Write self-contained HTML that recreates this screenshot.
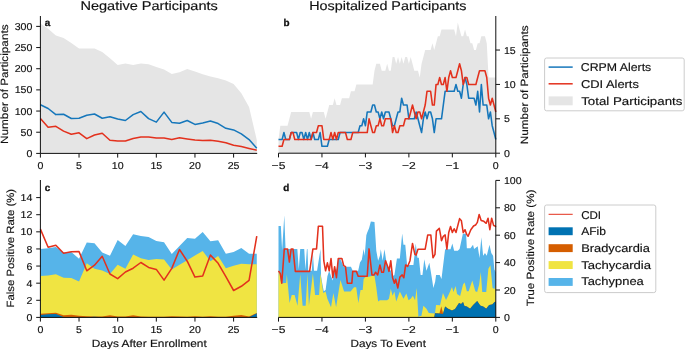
<!DOCTYPE html>
<html><head><meta charset="utf-8"><style>
html,body{margin:0;padding:0;background:#fff;}
svg{display:block;font-family:"Liberation Sans", sans-serif;will-change:transform;text-rendering:geometricPrecision;}
</style></head><body>
<svg width="685" height="349" viewBox="0 0 685 349">
<rect width="685" height="349" fill="#fff"/>
<polygon fill="#e5e5e5" points="40.40,23.60 48.13,28.70 55.86,35.60 63.58,37.90 71.31,43.10 79.04,48.60 86.77,48.60 94.50,48.60 102.22,52.00 109.95,58.30 117.68,64.90 125.41,63.50 133.14,65.00 140.86,63.50 148.59,64.30 156.32,66.90 164.05,69.50 171.78,73.90 179.50,72.20 187.23,69.00 194.96,71.60 202.69,74.20 210.42,76.40 218.14,78.30 225.87,80.60 233.60,84.00 241.33,93.30 249.06,107.00 256.78,140.00 256.78,153.4 40.40,153.4"/>
<polyline fill="none" stroke="#1677bb" stroke-width="1.55" stroke-linejoin="round" points="40.40,104.70 48.13,108.50 55.86,114.60 63.58,114.30 71.31,118.50 79.04,118.20 86.77,115.20 94.50,114.00 102.22,118.20 109.95,116.70 117.68,119.10 125.41,120.50 133.14,114.60 140.86,111.50 148.59,118.60 156.32,122.10 164.05,112.10 171.78,122.40 179.50,123.20 187.23,120.50 194.96,124.40 202.69,123.00 210.42,121.00 218.14,123.60 225.87,128.30 233.60,129.90 241.33,133.90 249.06,139.60 256.78,148.20"/>
<polyline fill="none" stroke="#e3311d" stroke-width="1.55" stroke-linejoin="round" points="40.40,118.50 48.13,127.20 55.86,126.30 63.58,131.10 71.31,134.30 79.04,132.80 86.77,138.60 94.50,135.00 102.22,133.20 109.95,140.20 117.68,140.90 125.41,140.90 133.14,138.40 140.86,136.90 148.59,136.90 156.32,137.90 164.05,138.10 171.78,139.40 179.50,137.80 187.23,138.90 194.96,139.90 202.69,140.50 210.42,140.20 218.14,141.30 225.87,142.70 233.60,145.30 241.33,146.50 249.06,148.40 256.78,150.20"/>
<polygon fill="#56b4e9" points="40.40,249.00 48.13,248.30 55.86,247.00 63.58,252.40 71.31,252.10 79.04,258.70 86.77,242.40 94.50,243.20 102.22,252.40 109.95,255.70 117.68,240.10 125.41,245.90 133.14,234.20 140.86,236.00 148.59,237.10 156.32,241.00 164.05,242.20 171.78,253.90 179.50,245.90 187.23,238.00 194.96,238.80 202.69,232.00 210.42,241.30 218.14,240.20 225.87,253.70 233.60,251.90 241.33,247.90 249.06,253.70 256.78,253.70 256.78,317.4 40.40,317.4"/>
<polygon fill="#f0e442" points="40.40,275.90 48.13,275.40 55.86,274.20 63.58,277.80 71.31,278.00 79.04,281.40 86.77,263.20 94.50,268.80 102.22,270.60 109.95,274.00 117.68,264.80 125.41,268.70 133.14,254.60 140.86,258.20 148.59,259.90 156.32,259.00 164.05,259.40 171.78,269.40 179.50,264.80 187.23,260.20 194.96,255.60 202.69,251.00 210.42,261.20 218.14,256.10 225.87,268.20 233.60,265.80 241.33,263.70 249.06,264.30 256.78,264.30 256.78,317.4 40.40,317.4"/>
<polygon fill="#d55e00" points="40.40,313.80 48.13,313.30 55.86,312.80 63.58,315.30 71.31,314.80 79.04,315.80 86.77,316.30 94.50,316.60 102.22,316.60 109.95,315.30 117.68,316.60 125.41,316.60 133.14,315.30 140.86,316.60 148.59,316.80 156.32,316.80 164.05,316.80 171.78,316.30 179.50,316.50 187.23,316.80 194.96,316.30 202.69,316.80 210.42,316.30 218.14,316.80 225.87,316.80 233.60,315.80 241.33,315.10 249.06,316.50 256.78,312.90 256.78,317.4 40.40,317.4"/>
<polygon fill="#0072b2" points="40.40,315.10 48.13,314.30 55.86,314.00 63.58,316.90 71.31,317.00 79.04,317.20 86.77,317.20 94.50,316.80 102.22,317.20 109.95,317.20 117.68,317.20 125.41,317.20 133.14,317.20 140.86,317.20 148.59,317.20 156.32,317.20 164.05,317.20 171.78,317.20 179.50,317.20 187.23,317.20 194.96,317.00 202.69,317.00 210.42,317.20 218.14,317.20 225.87,317.20 233.60,317.20 241.33,317.20 249.06,317.20 256.78,313.30 256.78,317.4 40.40,317.4"/>
<polyline fill="none" stroke="#e3311d" stroke-width="1.55" stroke-linejoin="round" points="40.40,229.10 48.13,247.30 55.86,245.20 63.58,253.30 71.31,251.80 79.04,251.60 86.77,270.80 94.50,265.20 102.22,256.30 109.95,274.00 117.68,278.60 125.41,272.00 133.14,268.20 140.86,262.50 148.59,267.40 156.32,269.40 164.05,280.10 171.78,268.40 179.50,249.50 187.23,261.20 194.96,277.10 202.69,276.10 210.42,255.10 218.14,263.30 225.87,276.60 233.60,290.50 241.33,286.30 249.06,280.40 256.78,236.20"/>
<polygon fill="#e5e5e5" points="278.50,139.45 280.31,125.69 282.12,125.69 283.93,125.69 285.74,125.69 287.56,125.69 289.37,118.81 291.18,111.94 292.99,111.94 294.80,111.94 296.61,111.94 298.42,111.94 300.23,111.94 302.04,111.94 303.85,111.94 305.67,111.94 307.48,111.94 309.29,111.94 311.10,118.81 312.91,111.94 314.72,111.94 316.53,111.94 318.34,111.94 320.15,111.94 321.96,111.94 323.77,111.94 325.59,118.81 327.40,111.94 329.21,105.06 331.02,105.06 332.83,105.06 334.64,98.18 336.45,105.06 338.26,105.06 340.07,105.06 341.88,98.18 343.70,98.18 345.51,98.18 347.32,98.18 349.13,98.18 350.94,91.31 352.75,91.31 354.56,91.31 356.37,84.43 358.18,84.43 360.00,84.43 361.81,84.43 363.62,84.43 365.43,84.43 367.24,84.43 369.05,84.43 370.86,84.43 372.67,84.43 374.48,70.68 376.29,63.80 378.11,63.80 379.92,63.80 381.73,70.68 383.54,70.68 385.35,70.68 387.16,63.80 388.97,70.68 390.78,70.68 392.59,56.92 394.40,56.92 396.22,63.80 398.03,56.92 399.84,63.80 401.65,56.92 403.46,63.80 405.27,56.92 407.08,56.92 408.89,63.80 410.70,56.92 412.51,63.80 414.32,70.68 416.14,70.68 417.95,70.68 419.76,77.55 421.57,63.80 423.38,56.92 425.19,50.04 427.00,50.04 428.81,50.04 430.62,50.04 432.44,43.17 434.25,50.04 436.06,43.17 437.87,36.29 439.68,36.29 441.49,29.41 443.30,29.41 445.11,29.41 446.92,29.41 448.73,29.41 450.54,29.41 452.36,29.41 454.17,29.41 455.98,36.29 457.79,22.54 459.60,29.41 461.41,36.29 463.22,36.29 465.03,29.41 466.84,36.29 468.65,36.29 470.47,43.17 472.28,43.17 474.09,50.04 475.90,50.04 477.71,43.17 479.52,43.17 481.33,36.29 483.14,36.29 484.95,36.29 486.76,43.17 488.58,77.55 490.39,77.55 492.20,77.55 494.01,77.55 495.82,77.55 495.82,153.2 278.50,153.2"/>
<polyline fill="none" stroke="#1677bb" stroke-width="1.55" stroke-linejoin="round" points="278.50,139.45 280.31,139.45 282.12,139.45 283.93,132.57 285.74,139.45 287.56,139.45 289.37,139.45 291.18,132.57 292.99,132.57 294.80,132.57 296.61,132.57 298.42,139.45 300.23,132.57 302.04,132.57 303.85,139.45 305.67,132.57 307.48,139.45 309.29,132.57 311.10,139.45 312.91,132.57 314.72,139.45 316.53,139.45 318.34,139.45 320.15,132.57 321.96,146.32 323.77,146.32 325.59,146.32 327.40,146.32 329.21,139.45 331.02,139.45 332.83,139.45 334.64,139.45 336.45,139.45 338.26,139.45 340.07,132.57 341.88,132.57 343.70,132.57 345.51,132.57 347.32,132.57 349.13,132.57 350.94,132.57 352.75,132.57 354.56,132.57 356.37,132.57 358.18,132.57 360.00,125.69 361.81,125.69 363.62,118.81 365.43,125.69 367.24,111.94 369.05,111.94 370.86,111.94 372.67,105.06 374.48,105.06 376.29,111.94 378.11,111.94 379.92,118.81 381.73,111.94 383.54,118.81 385.35,111.94 387.16,111.94 388.97,111.94 390.78,118.81 392.59,125.69 394.40,125.69 396.22,118.81 398.03,111.94 399.84,111.94 401.65,98.18 403.46,105.06 405.27,105.06 407.08,105.06 408.89,118.81 410.70,118.81 412.51,118.81 414.32,118.81 416.14,111.94 417.95,118.81 419.76,125.69 421.57,132.57 423.38,118.81 425.19,111.94 427.00,118.81 428.81,111.94 430.62,111.94 432.44,118.81 434.25,132.57 436.06,118.81 437.87,118.81 439.68,118.81 441.49,118.81 443.30,105.06 445.11,91.31 446.92,91.31 448.73,91.31 450.54,91.31 452.36,91.31 454.17,91.31 455.98,84.43 457.79,91.31 459.60,91.31 461.41,98.18 463.22,84.43 465.03,77.55 466.84,84.43 468.65,98.18 470.47,98.18 472.28,98.18 474.09,98.18 475.90,105.06 477.71,91.31 479.52,111.94 481.33,84.43 483.14,105.06 484.95,105.06 486.76,105.06 488.58,118.81 490.39,111.94 492.20,125.69 494.01,132.57 495.82,139.45"/>
<polyline fill="none" stroke="#e3311d" stroke-width="1.55" stroke-linejoin="round" points="278.50,146.32 280.31,146.32 282.12,146.32 283.93,139.45 285.74,139.45 287.56,139.45 289.37,139.45 291.18,132.57 292.99,132.57 294.80,139.45 296.61,139.45 298.42,139.45 300.23,139.45 302.04,139.45 303.85,139.45 305.67,139.45 307.48,139.45 309.29,139.45 311.10,139.45 312.91,132.57 314.72,132.57 316.53,132.57 318.34,125.69 320.15,125.69 321.96,125.69 323.77,139.45 325.59,139.45 327.40,139.45 329.21,139.45 331.02,132.57 332.83,139.45 334.64,132.57 336.45,139.45 338.26,132.57 340.07,132.57 341.88,132.57 343.70,132.57 345.51,132.57 347.32,139.45 349.13,139.45 350.94,139.45 352.75,132.57 354.56,132.57 356.37,132.57 358.18,132.57 360.00,132.57 361.81,132.57 363.62,132.57 365.43,132.57 367.24,132.57 369.05,118.81 370.86,125.69 372.67,132.57 374.48,132.57 376.29,125.69 378.11,125.69 379.92,118.81 381.73,125.69 383.54,125.69 385.35,118.81 387.16,118.81 388.97,118.81 390.78,118.81 392.59,132.57 394.40,125.69 396.22,132.57 398.03,132.57 399.84,125.69 401.65,125.69 403.46,125.69 405.27,118.81 407.08,118.81 408.89,118.81 410.70,111.94 412.51,105.06 414.32,111.94 416.14,118.81 417.95,111.94 419.76,111.94 421.57,118.81 423.38,111.94 425.19,105.06 427.00,91.31 428.81,91.31 430.62,91.31 432.44,105.06 434.25,105.06 436.06,84.43 437.87,84.43 439.68,77.55 441.49,84.43 443.30,84.43 445.11,77.55 446.92,91.31 448.73,77.55 450.54,70.68 452.36,77.55 454.17,77.55 455.98,77.55 457.79,70.68 459.60,63.80 461.41,70.68 463.22,84.43 465.03,77.55 466.84,77.55 468.65,84.43 470.47,84.43 472.28,84.43 474.09,84.43 475.90,84.43 477.71,77.55 479.52,70.68 481.33,70.68 483.14,70.68 484.95,70.68 486.76,77.55 488.58,98.18 490.39,105.06 492.20,98.18 494.01,105.06 495.82,111.94"/>
<polygon fill="#56b4e9" points="278.50,226.02 280.85,226.02 282.12,250.27 284.30,215.20 285.56,248.90 297.33,248.90 298.78,269.45 300.23,248.90 304.22,248.90 305.48,269.45 306.93,248.90 307.48,248.90 308.20,270.82 311.82,270.82 312.91,253.01 314.00,270.82 317.07,270.82 320.52,248.90 321.06,276.30 321.96,281.78 323.77,291.37 325.59,290.00 327.40,276.30 329.21,270.82 331.02,276.30 332.83,280.41 334.64,269.45 336.45,269.45 338.26,259.86 340.07,258.49 341.88,262.60 343.70,266.71 350.94,266.71 352.75,270.82 358.18,270.82 360.00,262.60 361.81,259.86 363.62,248.90 364.70,255.75 366.33,235.20 367.24,232.46 369.05,228.35 370.86,221.50 374.48,222.05 376.29,250.68 378.11,260.68 379.92,255.75 380.82,249.17 382.63,260.68 384.44,249.17 386.25,260.68 387.16,265.34 390.78,270.82 392.59,276.30 394.40,274.93 396.94,258.49 399.84,258.49 402.19,233.42 403.46,244.79 405.27,244.79 407.08,264.93 410.70,264.93 413.42,264.93 415.77,243.42 417.40,257.80 418.85,257.80 420.66,274.93 422.47,274.93 424.29,259.17 426.46,270.82 429.36,262.87 432.44,281.78 433.34,287.94 435.15,281.78 436.06,274.93 439.68,274.93 441.49,279.04 445.11,249.17 450.54,249.17 452.36,243.42 454.17,250.68 457.79,250.68 459.60,248.90 462.86,233.83 466.12,233.83 466.84,248.21 470.47,248.21 473.00,244.79 474.09,248.90 477.71,246.16 479.52,257.94 481.33,237.25 483.14,255.75 484.95,253.01 486.76,255.75 489.48,244.79 491.29,253.01 493.10,255.75 494.37,269.45 495.82,272.19 495.82,317.4 278.50,317.4"/>
<polygon fill="#f0e442" points="278.50,272.19 279.41,272.19 281.22,283.15 286.11,282.88 286.83,274.25 289.55,303.01 291.72,295.07 294.62,295.07 297.52,305.75 300.23,274.25 302.59,305.75 305.67,305.75 307.48,273.56 308.92,305.75 312.91,273.56 315.08,295.07 319.07,295.07 320.52,273.56 323.23,292.88 325.59,291.51 327.40,298.63 331.02,307.26 333.37,292.88 336.09,307.26 340.44,280.00 344.06,291.51 350.58,291.51 354.02,287.26 356.19,287.26 358.37,303.01 360.54,290.00 362.71,290.00 363.62,279.04 365.43,277.12 367.78,277.12 372.67,275.75 374.48,275.75 376.29,287.26 378.11,301.51 379.92,300.14 387.16,300.14 388.97,298.63 390.78,288.63 392.59,295.75 394.40,291.51 396.22,301.51 399.84,291.51 403.46,298.63 406.36,293.56 408.53,300.14 410.70,298.63 412.88,295.75 415.05,300.14 416.68,287.94 418.49,317.13 419.76,315.89 421.39,315.89 423.38,305.75 426.46,308.63 428.81,313.02 434.97,313.56 436.06,305.07 440.04,305.34 442.94,293.01 446.02,300.00 448.73,294.52 451.99,286.99 453.44,292.05 455.62,286.03 457.06,294.11 460.14,296.03 463.04,284.52 464.67,282.60 466.84,291.23 468.65,291.23 472.28,280.41 475.36,291.23 477.17,292.05 479.16,284.52 480.79,271.92 482.24,292.05 486.22,292.05 488.39,268.63 490.39,265.34 492.56,287.94 494.55,289.04 495.82,284.52 495.82,317.4 278.50,317.4"/>
<polygon fill="#d55e00" points="278.50,317.33 279.41,317.33 280.31,317.33 281.22,317.33 282.12,317.33 283.03,317.33 283.93,317.33 284.84,317.33 285.74,317.33 286.65,317.33 287.56,317.33 288.46,317.33 289.37,317.33 290.27,317.33 291.18,317.33 292.08,317.33 292.99,317.33 293.89,317.33 294.80,317.33 295.70,317.33 296.61,317.33 297.52,317.33 298.42,317.33 299.33,317.33 300.23,317.33 301.14,317.33 302.04,317.33 302.95,317.33 303.85,317.33 304.76,317.33 305.67,317.33 306.57,317.33 307.48,317.33 308.38,317.33 309.29,317.33 310.19,317.33 311.10,317.33 312.00,317.33 312.91,317.33 313.81,317.33 314.72,317.33 315.63,317.33 316.53,317.33 317.44,317.33 318.34,317.33 319.25,317.33 320.15,317.33 321.06,317.33 321.96,317.33 322.87,317.33 323.77,317.33 324.68,317.33 325.59,317.33 326.49,317.33 327.40,317.33 328.30,317.33 329.21,317.33 330.11,317.33 331.02,317.33 331.92,317.33 332.83,317.33 333.74,317.33 334.64,317.33 335.55,317.33 336.45,317.33 337.36,317.33 338.26,317.33 339.17,317.33 340.07,317.33 340.98,317.33 341.88,317.33 342.79,317.33 343.70,317.33 344.60,317.33 345.51,317.33 346.41,317.33 347.32,317.33 348.22,317.33 349.13,317.33 350.03,317.33 350.94,317.33 351.85,317.33 352.75,317.33 353.66,317.33 354.56,317.33 355.47,317.33 356.37,317.33 357.28,317.33 358.18,317.33 359.09,317.33 360.00,317.33 360.90,317.33 361.81,317.33 362.71,317.33 363.62,317.33 364.52,317.33 365.43,317.33 366.33,317.33 367.24,317.33 368.14,317.33 369.05,317.33 369.96,317.33 370.86,317.33 371.77,317.33 372.67,317.33 373.58,317.33 374.48,317.33 375.39,317.33 376.29,317.33 377.20,317.33 378.11,317.33 379.01,317.33 379.92,317.33 380.82,317.33 381.73,317.33 382.63,317.33 383.54,317.33 384.44,317.33 385.35,317.33 386.25,317.33 387.16,317.33 388.07,317.33 388.97,317.33 389.88,317.33 390.78,317.33 391.69,317.33 392.59,317.33 393.50,317.33 394.40,317.33 395.31,317.33 396.22,317.33 397.12,317.33 398.03,317.33 398.93,317.33 399.84,317.33 400.74,317.33 401.65,317.33 402.55,317.33 403.46,317.33 404.36,317.33 405.27,317.33 406.18,317.33 407.08,317.33 407.99,317.33 408.89,317.33 409.80,317.33 410.70,317.33 411.61,317.33 412.51,317.33 413.42,317.33 414.32,317.33 415.23,317.33 416.14,317.33 417.04,317.33 417.95,317.33 418.85,317.33 419.76,317.33 420.66,317.33 421.57,317.33 422.47,317.33 423.38,317.33 424.29,317.33 425.19,317.33 426.10,317.33 427.00,317.33 427.91,317.33 428.81,317.33 429.72,317.33 430.62,317.33 431.53,317.33 432.44,317.33 433.34,317.33 434.25,317.33 434.97,313.08 435.15,313.10 436.06,313.18 436.96,313.26 437.87,313.34 438.77,313.42 439.50,313.29 439.68,312.58 440.58,309.02 441.31,306.17 441.49,306.93 442.40,310.77 442.94,313.07 443.12,313.42 443.30,312.79 444.21,309.65 445.11,306.51 446.02,307.15 446.92,307.79 447.83,308.44 448.01,308.56 448.73,308.91 449.64,309.35 450.54,309.78 451.45,310.22 451.99,310.48 452.36,310.30 453.26,309.86 454.17,309.42 455.07,308.97 455.98,307.60 456.88,306.23 457.79,304.86 458.69,303.49 459.06,302.95 459.60,303.25 460.51,303.74 461.05,304.04 461.41,303.67 462.32,302.73 463.04,301.99 463.22,302.48 464.13,304.97 464.49,305.96 465.03,306.09 465.94,306.30 466.84,306.51 467.75,307.08 468.65,307.65 469.56,308.22 470.10,308.56 470.47,308.14 471.37,307.10 472.28,306.05 473.18,305.00 474.09,304.10 474.99,303.20 475.90,302.29 476.80,301.39 477.17,301.03 477.71,301.83 478.62,303.16 479.52,304.49 480.25,305.55 480.43,305.61 481.33,305.91 482.24,306.21 483.14,306.51 484.05,307.11 484.95,307.72 485.86,308.32 486.22,308.56 486.76,307.90 487.67,306.78 488.58,305.67 489.12,305.00 489.48,304.94 490.39,304.78 491.29,304.61 492.20,304.45 493.10,303.51 494.01,302.56 494.55,301.99 494.91,301.87 495.82,301.58 495.82,317.4 278.50,317.4"/>
<polygon fill="#0072b2" points="278.50,317.40 434.25,317.40 434.97,313.15 439.68,313.56 442.94,314.11 445.11,306.58 448.01,308.63 451.99,310.55 455.07,309.04 459.06,303.01 461.05,304.11 463.04,302.06 464.49,306.03 466.84,306.58 470.10,308.63 473.18,305.07 477.17,301.10 480.25,305.62 483.14,306.58 486.22,308.63 489.12,305.07 492.20,304.52 494.55,302.06 495.82,301.64 495.82,317.4 278.50,317.4"/>
<polyline fill="none" stroke="#e3311d" stroke-width="1.55" stroke-linejoin="round" points="278.50,270.82 280.31,273.56 281.76,283.15 284.30,248.90 287.56,248.90 289.37,262.05 291.18,248.90 292.99,248.90 295.34,271.37 309.65,271.37 312.91,248.90 316.53,248.90 318.34,226.29 322.51,226.29 323.77,260.68 325.59,270.82 327.40,262.87 329.21,270.82 331.02,258.49 332.83,277.67 334.64,266.71 336.45,277.67 338.26,258.49 341.88,258.49 343.70,265.61 345.51,266.71 347.32,283.15 351.85,283.15 352.75,271.37 356.37,271.37 358.18,276.16 367.24,276.16 369.05,248.90 371.95,274.93 374.12,274.93 375.57,272.19 377.74,274.93 379.92,264.93 381.73,272.19 383.54,272.19 385.53,260.68 387.70,266.44 388.97,271.37 390.78,260.68 392.59,277.81 394.40,283.15 395.67,279.31 397.84,287.94 399.84,277.12 402.19,274.93 403.82,277.81 405.63,264.93 407.62,266.44 409.98,260.68 412.51,243.42 414.87,254.38 416.14,255.06 417.95,249.17 425.19,249.17 427.73,234.93 430.81,234.93 432.98,257.80 434.97,254.38 436.42,231.09 439.32,228.35 440.58,235.20 441.49,240.68 443.30,236.30 445.11,234.93 446.92,249.17 448.73,232.46 450.54,226.57 452.36,232.46 454.17,228.76 455.98,232.46 459.60,218.62 461.41,220.81 463.22,232.60 465.03,229.72 466.66,234.38 468.11,236.30 470.83,229.72 473.54,226.02 475.54,225.06 477.35,222.32 479.16,214.51 481.15,220.54 483.87,221.36 486.22,223.28 488.03,218.21 489.84,229.72 491.65,218.21 493.65,225.61 495.10,226.02 495.82,226.98"/>
<line x1="40.4" y1="16" x2="40.4" y2="153.4" stroke="#111111" stroke-width="1.0"/>
<line x1="40.4" y1="153.4" x2="257.2" y2="153.4" stroke="#111111" stroke-width="1.0"/>
<line x1="40.4" y1="180" x2="40.4" y2="317.4" stroke="#111111" stroke-width="1.0"/>
<line x1="40.4" y1="317.4" x2="257.2" y2="317.4" stroke="#111111" stroke-width="1.0"/>
<line x1="495.8" y1="16" x2="495.8" y2="153.2" stroke="#111111" stroke-width="1.0"/>
<line x1="278.5" y1="153.2" x2="495.8" y2="153.2" stroke="#111111" stroke-width="1.0"/>
<line x1="495.8" y1="180.4" x2="495.8" y2="317.4" stroke="#111111" stroke-width="1.0"/>
<line x1="278.5" y1="317.4" x2="495.8" y2="317.4" stroke="#111111" stroke-width="1.0"/>
<line x1="36.199999999999996" y1="153.4" x2="40.4" y2="153.4" stroke="#111111" stroke-width="1.0"/>
<text x="32.4" y="157.0" font-size="10.0" text-anchor="end" font-weight="normal" fill="#111111" stroke="#111111" stroke-width="0.15" textLength="5.9" lengthAdjust="spacingAndGlyphs">0</text>
<line x1="36.199999999999996" y1="132.23000000000002" x2="40.4" y2="132.23000000000002" stroke="#111111" stroke-width="1.0"/>
<text x="32.4" y="135.83" font-size="10.0" text-anchor="end" font-weight="normal" fill="#111111" stroke="#111111" stroke-width="0.15" textLength="11.8" lengthAdjust="spacingAndGlyphs">50</text>
<line x1="36.199999999999996" y1="111.06" x2="40.4" y2="111.06" stroke="#111111" stroke-width="1.0"/>
<text x="32.4" y="114.66" font-size="10.0" text-anchor="end" font-weight="normal" fill="#111111" stroke="#111111" stroke-width="0.15" textLength="17.7" lengthAdjust="spacingAndGlyphs">100</text>
<line x1="36.199999999999996" y1="89.89000000000001" x2="40.4" y2="89.89000000000001" stroke="#111111" stroke-width="1.0"/>
<text x="32.4" y="93.49000000000001" font-size="10.0" text-anchor="end" font-weight="normal" fill="#111111" stroke="#111111" stroke-width="0.15" textLength="17.7" lengthAdjust="spacingAndGlyphs">150</text>
<line x1="36.199999999999996" y1="68.72" x2="40.4" y2="68.72" stroke="#111111" stroke-width="1.0"/>
<text x="32.4" y="72.32" font-size="10.0" text-anchor="end" font-weight="normal" fill="#111111" stroke="#111111" stroke-width="0.15" textLength="17.7" lengthAdjust="spacingAndGlyphs">200</text>
<line x1="36.199999999999996" y1="47.55000000000001" x2="40.4" y2="47.55000000000001" stroke="#111111" stroke-width="1.0"/>
<text x="32.4" y="51.15000000000001" font-size="10.0" text-anchor="end" font-weight="normal" fill="#111111" stroke="#111111" stroke-width="0.15" textLength="17.7" lengthAdjust="spacingAndGlyphs">250</text>
<line x1="36.199999999999996" y1="26.38000000000001" x2="40.4" y2="26.38000000000001" stroke="#111111" stroke-width="1.0"/>
<text x="32.4" y="29.98000000000001" font-size="10.0" text-anchor="end" font-weight="normal" fill="#111111" stroke="#111111" stroke-width="0.15" textLength="17.7" lengthAdjust="spacingAndGlyphs">300</text>
<line x1="40.4" y1="153.4" x2="40.4" y2="157.6" stroke="#111111" stroke-width="1.0"/>
<text x="40.4" y="168.5" font-size="10.0" text-anchor="middle" font-weight="normal" fill="#111111" stroke="#111111" stroke-width="0.15" textLength="5.9" lengthAdjust="spacingAndGlyphs">0</text>
<line x1="79.03999999999999" y1="153.4" x2="79.03999999999999" y2="157.6" stroke="#111111" stroke-width="1.0"/>
<text x="79.03999999999999" y="168.5" font-size="10.0" text-anchor="middle" font-weight="normal" fill="#111111" stroke="#111111" stroke-width="0.15" textLength="5.9" lengthAdjust="spacingAndGlyphs">5</text>
<line x1="117.68" y1="153.4" x2="117.68" y2="157.6" stroke="#111111" stroke-width="1.0"/>
<text x="117.68" y="168.5" font-size="10.0" text-anchor="middle" font-weight="normal" fill="#111111" stroke="#111111" stroke-width="0.15" textLength="11.8" lengthAdjust="spacingAndGlyphs">10</text>
<line x1="156.32" y1="153.4" x2="156.32" y2="157.6" stroke="#111111" stroke-width="1.0"/>
<text x="156.32" y="168.5" font-size="10.0" text-anchor="middle" font-weight="normal" fill="#111111" stroke="#111111" stroke-width="0.15" textLength="11.8" lengthAdjust="spacingAndGlyphs">15</text>
<line x1="194.96" y1="153.4" x2="194.96" y2="157.6" stroke="#111111" stroke-width="1.0"/>
<text x="194.96" y="168.5" font-size="10.0" text-anchor="middle" font-weight="normal" fill="#111111" stroke="#111111" stroke-width="0.15" textLength="11.8" lengthAdjust="spacingAndGlyphs">20</text>
<line x1="233.6" y1="153.4" x2="233.6" y2="157.6" stroke="#111111" stroke-width="1.0"/>
<text x="233.6" y="168.5" font-size="10.0" text-anchor="middle" font-weight="normal" fill="#111111" stroke="#111111" stroke-width="0.15" textLength="11.8" lengthAdjust="spacingAndGlyphs">25</text>
<line x1="36.199999999999996" y1="317.4" x2="40.4" y2="317.4" stroke="#111111" stroke-width="1.0"/>
<text x="32.4" y="321.0" font-size="10.0" text-anchor="end" font-weight="normal" fill="#111111" stroke="#111111" stroke-width="0.15" textLength="5.9" lengthAdjust="spacingAndGlyphs">0</text>
<line x1="36.199999999999996" y1="300.286" x2="40.4" y2="300.286" stroke="#111111" stroke-width="1.0"/>
<text x="32.4" y="303.886" font-size="10.0" text-anchor="end" font-weight="normal" fill="#111111" stroke="#111111" stroke-width="0.15" textLength="5.9" lengthAdjust="spacingAndGlyphs">2</text>
<line x1="36.199999999999996" y1="283.17199999999997" x2="40.4" y2="283.17199999999997" stroke="#111111" stroke-width="1.0"/>
<text x="32.4" y="286.772" font-size="10.0" text-anchor="end" font-weight="normal" fill="#111111" stroke="#111111" stroke-width="0.15" textLength="5.9" lengthAdjust="spacingAndGlyphs">4</text>
<line x1="36.199999999999996" y1="266.058" x2="40.4" y2="266.058" stroke="#111111" stroke-width="1.0"/>
<text x="32.4" y="269.658" font-size="10.0" text-anchor="end" font-weight="normal" fill="#111111" stroke="#111111" stroke-width="0.15" textLength="5.9" lengthAdjust="spacingAndGlyphs">6</text>
<line x1="36.199999999999996" y1="248.94399999999996" x2="40.4" y2="248.94399999999996" stroke="#111111" stroke-width="1.0"/>
<text x="32.4" y="252.54399999999995" font-size="10.0" text-anchor="end" font-weight="normal" fill="#111111" stroke="#111111" stroke-width="0.15" textLength="5.9" lengthAdjust="spacingAndGlyphs">8</text>
<line x1="36.199999999999996" y1="231.82999999999998" x2="40.4" y2="231.82999999999998" stroke="#111111" stroke-width="1.0"/>
<text x="32.4" y="235.42999999999998" font-size="10.0" text-anchor="end" font-weight="normal" fill="#111111" stroke="#111111" stroke-width="0.15" textLength="11.8" lengthAdjust="spacingAndGlyphs">10</text>
<line x1="36.199999999999996" y1="214.71599999999998" x2="40.4" y2="214.71599999999998" stroke="#111111" stroke-width="1.0"/>
<text x="32.4" y="218.31599999999997" font-size="10.0" text-anchor="end" font-weight="normal" fill="#111111" stroke="#111111" stroke-width="0.15" textLength="11.8" lengthAdjust="spacingAndGlyphs">12</text>
<line x1="36.199999999999996" y1="197.60199999999998" x2="40.4" y2="197.60199999999998" stroke="#111111" stroke-width="1.0"/>
<text x="32.4" y="201.20199999999997" font-size="10.0" text-anchor="end" font-weight="normal" fill="#111111" stroke="#111111" stroke-width="0.15" textLength="11.8" lengthAdjust="spacingAndGlyphs">14</text>
<line x1="40.4" y1="317.4" x2="40.4" y2="321.59999999999997" stroke="#111111" stroke-width="1.0"/>
<text x="40.4" y="332.7" font-size="10.0" text-anchor="middle" font-weight="normal" fill="#111111" stroke="#111111" stroke-width="0.15" textLength="5.9" lengthAdjust="spacingAndGlyphs">0</text>
<line x1="79.03999999999999" y1="317.4" x2="79.03999999999999" y2="321.59999999999997" stroke="#111111" stroke-width="1.0"/>
<text x="79.03999999999999" y="332.7" font-size="10.0" text-anchor="middle" font-weight="normal" fill="#111111" stroke="#111111" stroke-width="0.15" textLength="5.9" lengthAdjust="spacingAndGlyphs">5</text>
<line x1="117.68" y1="317.4" x2="117.68" y2="321.59999999999997" stroke="#111111" stroke-width="1.0"/>
<text x="117.68" y="332.7" font-size="10.0" text-anchor="middle" font-weight="normal" fill="#111111" stroke="#111111" stroke-width="0.15" textLength="11.8" lengthAdjust="spacingAndGlyphs">10</text>
<line x1="156.32" y1="317.4" x2="156.32" y2="321.59999999999997" stroke="#111111" stroke-width="1.0"/>
<text x="156.32" y="332.7" font-size="10.0" text-anchor="middle" font-weight="normal" fill="#111111" stroke="#111111" stroke-width="0.15" textLength="11.8" lengthAdjust="spacingAndGlyphs">15</text>
<line x1="194.96" y1="317.4" x2="194.96" y2="321.59999999999997" stroke="#111111" stroke-width="1.0"/>
<text x="194.96" y="332.7" font-size="10.0" text-anchor="middle" font-weight="normal" fill="#111111" stroke="#111111" stroke-width="0.15" textLength="11.8" lengthAdjust="spacingAndGlyphs">20</text>
<line x1="233.6" y1="317.4" x2="233.6" y2="321.59999999999997" stroke="#111111" stroke-width="1.0"/>
<text x="233.6" y="332.7" font-size="10.0" text-anchor="middle" font-weight="normal" fill="#111111" stroke="#111111" stroke-width="0.15" textLength="11.8" lengthAdjust="spacingAndGlyphs">25</text>
<line x1="495.8" y1="153.2" x2="500.0" y2="153.2" stroke="#111111" stroke-width="1.0"/>
<text x="503.9" y="156.79999999999998" font-size="10.0" text-anchor="start" font-weight="normal" fill="#111111" stroke="#111111" stroke-width="0.15" textLength="5.9" lengthAdjust="spacingAndGlyphs">0</text>
<line x1="495.8" y1="118.815" x2="500.0" y2="118.815" stroke="#111111" stroke-width="1.0"/>
<text x="503.9" y="122.41499999999999" font-size="10.0" text-anchor="start" font-weight="normal" fill="#111111" stroke="#111111" stroke-width="0.15" textLength="5.9" lengthAdjust="spacingAndGlyphs">5</text>
<line x1="495.8" y1="84.42999999999999" x2="500.0" y2="84.42999999999999" stroke="#111111" stroke-width="1.0"/>
<text x="503.9" y="88.02999999999999" font-size="10.0" text-anchor="start" font-weight="normal" fill="#111111" stroke="#111111" stroke-width="0.15" textLength="11.8" lengthAdjust="spacingAndGlyphs">10</text>
<line x1="495.8" y1="50.04499999999999" x2="500.0" y2="50.04499999999999" stroke="#111111" stroke-width="1.0"/>
<text x="503.9" y="53.64499999999999" font-size="10.0" text-anchor="start" font-weight="normal" fill="#111111" stroke="#111111" stroke-width="0.15" textLength="11.8" lengthAdjust="spacingAndGlyphs">15</text>
<line x1="278.5" y1="153.2" x2="278.5" y2="157.39999999999998" stroke="#111111" stroke-width="1.0"/>
<text x="278.5" y="168.5" font-size="10.0" text-anchor="middle" font-weight="normal" fill="#111111" stroke="#111111" stroke-width="0.15" textLength="13.8" lengthAdjust="spacingAndGlyphs">−5</text>
<line x1="321.96" y1="153.2" x2="321.96" y2="157.39999999999998" stroke="#111111" stroke-width="1.0"/>
<text x="321.96" y="168.5" font-size="10.0" text-anchor="middle" font-weight="normal" fill="#111111" stroke="#111111" stroke-width="0.15" textLength="13.8" lengthAdjust="spacingAndGlyphs">−4</text>
<line x1="365.42" y1="153.2" x2="365.42" y2="157.39999999999998" stroke="#111111" stroke-width="1.0"/>
<text x="365.42" y="168.5" font-size="10.0" text-anchor="middle" font-weight="normal" fill="#111111" stroke="#111111" stroke-width="0.15" textLength="13.8" lengthAdjust="spacingAndGlyphs">−3</text>
<line x1="408.88" y1="153.2" x2="408.88" y2="157.39999999999998" stroke="#111111" stroke-width="1.0"/>
<text x="408.88" y="168.5" font-size="10.0" text-anchor="middle" font-weight="normal" fill="#111111" stroke="#111111" stroke-width="0.15" textLength="13.8" lengthAdjust="spacingAndGlyphs">−2</text>
<line x1="452.34000000000003" y1="153.2" x2="452.34000000000003" y2="157.39999999999998" stroke="#111111" stroke-width="1.0"/>
<text x="452.34000000000003" y="168.5" font-size="10.0" text-anchor="middle" font-weight="normal" fill="#111111" stroke="#111111" stroke-width="0.15" textLength="13.8" lengthAdjust="spacingAndGlyphs">−1</text>
<line x1="495.8" y1="153.2" x2="495.8" y2="157.39999999999998" stroke="#111111" stroke-width="1.0"/>
<text x="495.8" y="168.5" font-size="10.0" text-anchor="middle" font-weight="normal" fill="#111111" stroke="#111111" stroke-width="0.15" textLength="5.9" lengthAdjust="spacingAndGlyphs">0</text>
<line x1="495.8" y1="317.4" x2="500.0" y2="317.4" stroke="#111111" stroke-width="1.0"/>
<text x="503.9" y="321.0" font-size="10.0" text-anchor="start" font-weight="normal" fill="#111111" stroke="#111111" stroke-width="0.15" textLength="5.9" lengthAdjust="spacingAndGlyphs">0</text>
<line x1="495.8" y1="290.0" x2="500.0" y2="290.0" stroke="#111111" stroke-width="1.0"/>
<text x="503.9" y="293.6" font-size="10.0" text-anchor="start" font-weight="normal" fill="#111111" stroke="#111111" stroke-width="0.15" textLength="11.8" lengthAdjust="spacingAndGlyphs">20</text>
<line x1="495.8" y1="262.59999999999997" x2="500.0" y2="262.59999999999997" stroke="#111111" stroke-width="1.0"/>
<text x="503.9" y="266.2" font-size="10.0" text-anchor="start" font-weight="normal" fill="#111111" stroke="#111111" stroke-width="0.15" textLength="11.8" lengthAdjust="spacingAndGlyphs">40</text>
<line x1="495.8" y1="235.2" x2="500.0" y2="235.2" stroke="#111111" stroke-width="1.0"/>
<text x="503.9" y="238.79999999999998" font-size="10.0" text-anchor="start" font-weight="normal" fill="#111111" stroke="#111111" stroke-width="0.15" textLength="11.8" lengthAdjust="spacingAndGlyphs">60</text>
<line x1="495.8" y1="207.79999999999995" x2="500.0" y2="207.79999999999995" stroke="#111111" stroke-width="1.0"/>
<text x="503.9" y="211.39999999999995" font-size="10.0" text-anchor="start" font-weight="normal" fill="#111111" stroke="#111111" stroke-width="0.15" textLength="11.8" lengthAdjust="spacingAndGlyphs">80</text>
<line x1="495.8" y1="180.39999999999998" x2="500.0" y2="180.39999999999998" stroke="#111111" stroke-width="1.0"/>
<text x="503.9" y="183.99999999999997" font-size="10.0" text-anchor="start" font-weight="normal" fill="#111111" stroke="#111111" stroke-width="0.15" textLength="17.7" lengthAdjust="spacingAndGlyphs">100</text>
<line x1="278.5" y1="317.4" x2="278.5" y2="321.59999999999997" stroke="#111111" stroke-width="1.0"/>
<text x="278.5" y="332.7" font-size="10.0" text-anchor="middle" font-weight="normal" fill="#111111" stroke="#111111" stroke-width="0.15" textLength="13.8" lengthAdjust="spacingAndGlyphs">−5</text>
<line x1="321.96" y1="317.4" x2="321.96" y2="321.59999999999997" stroke="#111111" stroke-width="1.0"/>
<text x="321.96" y="332.7" font-size="10.0" text-anchor="middle" font-weight="normal" fill="#111111" stroke="#111111" stroke-width="0.15" textLength="13.8" lengthAdjust="spacingAndGlyphs">−4</text>
<line x1="365.42" y1="317.4" x2="365.42" y2="321.59999999999997" stroke="#111111" stroke-width="1.0"/>
<text x="365.42" y="332.7" font-size="10.0" text-anchor="middle" font-weight="normal" fill="#111111" stroke="#111111" stroke-width="0.15" textLength="13.8" lengthAdjust="spacingAndGlyphs">−3</text>
<line x1="408.88" y1="317.4" x2="408.88" y2="321.59999999999997" stroke="#111111" stroke-width="1.0"/>
<text x="408.88" y="332.7" font-size="10.0" text-anchor="middle" font-weight="normal" fill="#111111" stroke="#111111" stroke-width="0.15" textLength="13.8" lengthAdjust="spacingAndGlyphs">−2</text>
<line x1="452.34000000000003" y1="317.4" x2="452.34000000000003" y2="321.59999999999997" stroke="#111111" stroke-width="1.0"/>
<text x="452.34000000000003" y="332.7" font-size="10.0" text-anchor="middle" font-weight="normal" fill="#111111" stroke="#111111" stroke-width="0.15" textLength="13.8" lengthAdjust="spacingAndGlyphs">−1</text>
<line x1="495.8" y1="317.4" x2="495.8" y2="321.59999999999997" stroke="#111111" stroke-width="1.0"/>
<text x="495.8" y="332.7" font-size="10.0" text-anchor="middle" font-weight="normal" fill="#111111" stroke="#111111" stroke-width="0.15" textLength="5.9" lengthAdjust="spacingAndGlyphs">0</text>
<text x="149.1" y="9.8" font-size="12.6" text-anchor="middle" font-weight="normal" fill="#111111" stroke="#111111" stroke-width="0.15" textLength="137.4" lengthAdjust="spacingAndGlyphs">Negative Participants</text>
<text x="387.8" y="9.7" font-size="12.6" text-anchor="middle" font-weight="normal" fill="#111111" stroke="#111111" stroke-width="0.15" textLength="157.2" lengthAdjust="spacingAndGlyphs">Hospitalized Participants</text>
<text x="44.8" y="26.1" font-size="9.9" text-anchor="start" font-weight="bold" fill="#111111" stroke="#111111" stroke-width="0.3">a</text>
<text x="283.5" y="25.7" font-size="9.9" text-anchor="start" font-weight="bold" fill="#111111" stroke="#111111" stroke-width="0.3">b</text>
<text x="44.7" y="190.5" font-size="9.9" text-anchor="start" font-weight="bold" fill="#111111" stroke="#111111" stroke-width="0.3">c</text>
<text x="283.2" y="190.6" font-size="9.9" text-anchor="start" font-weight="bold" fill="#111111" stroke="#111111" stroke-width="0.3">d</text>
<text x="149.25" y="346.9" font-size="10.5" text-anchor="middle" font-weight="normal" fill="#111111" stroke="#111111" stroke-width="0.15" textLength="115.0" lengthAdjust="spacingAndGlyphs">Days After Enrollment</text>
<text x="388.2" y="347.0" font-size="10.5" text-anchor="middle" font-weight="normal" fill="#111111" stroke="#111111" stroke-width="0.15" textLength="75.4" lengthAdjust="spacingAndGlyphs">Days To Event</text>
<text x="8.4" y="84.2" font-size="10.5" text-anchor="middle" font-weight="normal" fill="#111111" stroke="#111111" stroke-width="0.15" textLength="119.5" lengthAdjust="spacingAndGlyphs" transform="rotate(-90 8.4 84.2)">Number of Participants</text>
<text x="528.2" y="84.8" font-size="10.5" text-anchor="middle" font-weight="normal" fill="#111111" stroke="#111111" stroke-width="0.15" textLength="119.0" lengthAdjust="spacingAndGlyphs" transform="rotate(-90 528.2 84.8)">Number of Participants</text>
<text x="14.2" y="248.2" font-size="10.5" text-anchor="middle" font-weight="normal" fill="#111111" stroke="#111111" stroke-width="0.15" textLength="118.5" lengthAdjust="spacingAndGlyphs" transform="rotate(-90 14.2 248.2)">False Positive Rate (%)</text>
<text x="534.0" y="247.9" font-size="10.5" text-anchor="middle" font-weight="normal" fill="#111111" stroke="#111111" stroke-width="0.15" textLength="116.6" lengthAdjust="spacingAndGlyphs" transform="rotate(-90 534.0 247.9)">True Positive Rate (%)</text>
<rect x="544.6" y="58.0" width="139.6" height="52.8" rx="2" ry="2" fill="#ffffff" fill-opacity="0.8" stroke="#cccccc" stroke-width="1"/>
<line x1="548.6" y1="67.1" x2="572.7" y2="67.1" stroke="#1677bb" stroke-width="1.5"/>
<line x1="548.6" y1="83.8" x2="572.7" y2="83.8" stroke="#e3311d" stroke-width="1.5"/>
<rect x="548.6" y="96.4" width="24.1" height="8.9" fill="#e5e5e5"/>
<text x="580.8" y="70.9" font-size="11.3" text-anchor="start" font-weight="normal" fill="#111111" stroke="#111111" stroke-width="0.15" textLength="70.4" lengthAdjust="spacingAndGlyphs">CRPM Alerts</text>
<text x="580.9" y="87.7" font-size="11.3" text-anchor="start" font-weight="normal" fill="#111111" stroke="#111111" stroke-width="0.15" textLength="58.0" lengthAdjust="spacingAndGlyphs">CDI Alerts</text>
<text x="581.2" y="104.6" font-size="11.3" text-anchor="start" font-weight="normal" fill="#111111" stroke="#111111" stroke-width="0.15" textLength="101.2" lengthAdjust="spacingAndGlyphs">Total Participants</text>
<rect x="544.6" y="205.0" width="111.2" height="87.6" rx="2" ry="2" fill="#ffffff" fill-opacity="0.8" stroke="#cccccc" stroke-width="1"/>
<line x1="548.6" y1="214.3" x2="572.7" y2="214.3" stroke="#e3311d" stroke-width="1.0"/>
<rect x="548.6" y="227.3" width="24.1" height="7.9" fill="#0072b2"/>
<rect x="548.6" y="244.2" width="24.1" height="7.9" fill="#d55e00"/>
<rect x="548.6" y="261.1" width="24.1" height="7.9" fill="#f0e442"/>
<rect x="548.6" y="278.0" width="24.1" height="7.9" fill="#56b4e9"/>
<text x="581.2" y="218.6" font-size="11.3" text-anchor="start" font-weight="normal" fill="#111111" stroke="#111111" stroke-width="0.15" textLength="19.9" lengthAdjust="spacingAndGlyphs">CDI</text>
<text x="581.2" y="235.25" font-size="11.3" text-anchor="start" font-weight="normal" fill="#111111" stroke="#111111" stroke-width="0.15" textLength="24.8" lengthAdjust="spacingAndGlyphs">AFib</text>
<text x="581.2" y="251.89999999999998" font-size="11.3" text-anchor="start" font-weight="normal" fill="#111111" stroke="#111111" stroke-width="0.15" textLength="68.6" lengthAdjust="spacingAndGlyphs">Bradycardia</text>
<text x="581.2" y="268.55" font-size="11.3" text-anchor="start" font-weight="normal" fill="#111111" stroke="#111111" stroke-width="0.15" textLength="69.8" lengthAdjust="spacingAndGlyphs">Tachycardia</text>
<text x="581.2" y="285.2" font-size="11.3" text-anchor="start" font-weight="normal" fill="#111111" stroke="#111111" stroke-width="0.15" textLength="62.6" lengthAdjust="spacingAndGlyphs">Tachypnea</text>
</svg>
</body></html>
